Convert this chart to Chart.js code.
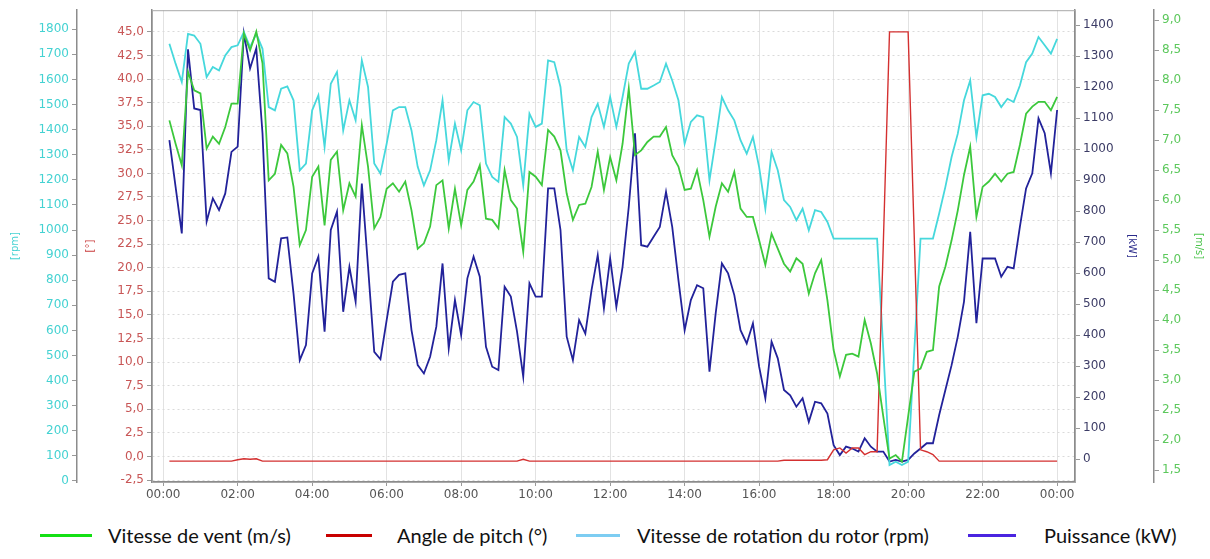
<!DOCTYPE html>
<html lang="fr">
<head>
<meta charset="utf-8">
<title>Éolienne - journée</title>
<script src="https://cdn.jsdelivr.net/npm/chart.js@4.4.0/dist/chart.umd.min.js"></script>
<style>
  html, body { margin: 0; padding: 0; background: #fff; }
  #wrap { position: relative; width: 1210px; height: 559px; overflow: hidden; }
  #graphique { position: absolute; left: 0; top: 0; }
  .leg-trait { position: absolute; height: 3px; }
  .leg-texte { position: absolute; font-family: 'Lato', 'Open Sans', sans-serif; font-size: 20px; color: #111; white-space: nowrap; line-height: 22px; }
</style>
</head>
<body>
<div id="wrap">
  <canvas id="graphique" width="1210" height="500"></canvas>
  <div id="legende"></div>
</div>
<script>
// échantillons toutes les 10 min, de 00:10 à 24:00
const debutMinutes = 10;
const pasMinutes = 10;

// vitesse de vent (m/s)
const vent = [
  7.33, 6.94, 6.58, 8.14, 7.83, 7.78, 6.86, 7.06, 6.94, 7.22, 7.61, 7.61, 8.78, 8.5, 8.81, 8.28, 6.33, 6.44,
  6.92, 6.78, 6.22, 5.25, 5.5, 6.39, 6.56, 5.58, 6.67, 6.81, 5.83, 6.28, 6.06, 7.25, 6.56, 5.53, 5.72, 6.19,
  6.28, 6.14, 6.31, 5.83, 5.19, 5.28, 5.56, 6.25, 6.33, 5.53, 6.19, 5.58, 6.17, 6.31, 6.58, 5.69, 5.67, 5.53,
  6.5, 6.0, 5.86, 5.14, 6.47, 6.39, 6.25, 7.17, 7.06, 6.83, 6.11, 5.67, 5.92, 5.94, 6.22, 6.81, 6.17, 6.72, 6.33,
  6.94, 7.86, 6.75, 6.83, 6.97, 7.06, 7.06, 7.22, 6.75, 6.56, 6.17, 6.19, 6.5, 6.0, 5.39, 5.89, 6.28, 6.14,
  6.47, 5.86, 5.72, 5.72, 5.33, 4.92, 5.44, 5.19, 4.94, 4.81, 5.03, 4.94, 4.44, 4.78, 5.0, 4.33, 3.5, 3.06, 3.42,
  3.44, 3.39, 4.0, 3.61, 3.11, 2.39, 1.69, 1.75, 1.64, 2.39, 3.14, 3.19, 3.47, 3.5, 4.56, 4.89, 5.33,
  5.83, 6.42, 6.89, 5.72, 6.22, 6.31, 6.44, 6.31, 6.44, 6.47, 6.92, 7.44, 7.56, 7.64, 7.64, 7.5, 7.72
];

// angle de pitch (°)
const pitch = [
  -0.5, -0.5, -0.5, -0.5, -0.5, -0.5, -0.5, -0.5, -0.5, -0.5, -0.5, -0.35, -0.25, -0.3, -0.25, -0.5, -0.5, -0.5,
  -0.5, -0.5, -0.5, -0.5, -0.5, -0.5, -0.5, -0.5, -0.5, -0.5, -0.5, -0.5, -0.5, -0.5, -0.5, -0.5, -0.5, -0.5,
  -0.5, -0.5, -0.5, -0.5, -0.5, -0.5, -0.5, -0.5, -0.5, -0.5, -0.5, -0.5, -0.5, -0.5, -0.5, -0.5, -0.5, -0.5,
  -0.5, -0.5, -0.5, -0.3, -0.5, -0.5, -0.5, -0.5, -0.5, -0.5, -0.5, -0.5, -0.5, -0.5, -0.5, -0.5, -0.5, -0.5, -0.5,
  -0.5, -0.5, -0.5, -0.5, -0.5, -0.5, -0.5, -0.5, -0.5, -0.5, -0.5, -0.5, -0.5, -0.5, -0.5, -0.5, -0.5, -0.5,
  -0.5, -0.5, -0.5, -0.5, -0.5, -0.5, -0.5, -0.5, -0.4, -0.4, -0.4, -0.4, -0.4, -0.4, -0.4, -0.35, 0.7, 0.9, 0.35,
  0.9, 0.9, 0.2, 0.5, 0.5, 22.5, 45, 45, 45, 45, 23, 0.7, 0.5, 0.2, -0.5, -0.5, -0.5,
  -0.5, -0.5, -0.5, -0.5, -0.5, -0.5, -0.5, -0.5, -0.5, -0.5, -0.5, -0.5, -0.5, -0.5, -0.5, -0.5, -0.5
];

// vitesse de rotation du rotor (rpm)
const rotor = [
  1742, 1663, 1590, 1782, 1775, 1742, 1610, 1650, 1636, 1696, 1729, 1736, 1789, 1729, 1782, 1722, 1490, 1477,
  1563, 1572, 1517, 1238, 1265, 1477, 1537, 1331, 1583, 1630, 1397, 1517, 1437, 1676, 1570, 1265, 1225, 1344,
  1477, 1490, 1490, 1397, 1252, 1178, 1238, 1358, 1517, 1278, 1424, 1318, 1477, 1510, 1497, 1265, 1212, 1192,
  1450, 1424, 1371, 1178, 1464, 1411, 1424, 1676, 1669, 1570, 1318, 1238, 1371, 1331, 1450, 1503, 1411, 1530, 1411,
  1530, 1663, 1709, 1563, 1563, 1576, 1590, 1663, 1596, 1517, 1344, 1431, 1457, 1450, 1198, 1358, 1530, 1477,
  1437, 1358, 1304, 1371, 1251, 1085, 1311, 1238, 1119, 1092, 1039, 1085, 999, 1079, 1072, 1032, 966, 966, 966,
  966, 966, 966, 966, 966, 522, 64, 77, 64, 77, 522, 966, 966, 966, 1066, 1172, 1291,
  1384, 1517, 1596, 1371, 1537, 1543, 1530, 1490, 1523, 1510, 1576, 1669, 1703, 1769, 1736, 1703, 1762
];

// puissance (kW)
const puissance = [
  1029, 878, 728, 1322, 1131, 1126, 766, 841, 803, 857, 991, 1008, 1373, 1260, 1325, 1051, 583, 572,
  712, 715, 534, 319, 368, 599, 653, 411, 739, 798, 475, 620, 508, 889, 620, 346, 322, 448,
  572, 594, 599, 416, 303, 276, 330, 427, 631, 357, 513, 400, 583, 653, 588, 362, 298, 287,
  556, 524, 411, 266, 567, 524, 524, 873, 873, 739, 395, 319, 448, 405, 545, 658, 486, 647, 491,
  620, 814, 1051, 690, 685, 717, 749, 862, 749, 577, 416, 513, 561, 551, 282, 470, 631, 599,
  529, 416, 373, 438, 298, 196, 379, 325, 223, 206, 169, 196, 120, 185, 180, 147, 45, 13, 40,
  34, 24, 67, 40, 24, 24, -8, -3, -8, -3, 18, 34, 51, 51, 142, 223, 303,
  395, 508, 733, 438, 647, 647, 647, 588, 620, 615, 749, 873, 922, 1099, 1051, 922, 1126
];

// graduations des axes
const ticksHeures = [0, 2, 4, 6, 8, 10, 12, 14, 16, 18, 20, 22, 24];
const ticksRpm = [0, 100, 200, 300, 400, 500, 600, 700, 800, 900, 1000, 1100, 1200, 1300, 1400, 1500, 1600, 1700, 1800];
const ticksPitch = [-2.5, 0, 2.5, 5, 7.5, 10, 12.5, 15, 17.5, 20, 22.5, 25, 27.5, 30, 32.5, 35, 37.5, 40, 42.5, 45];
const ticksKw = [0, 100, 200, 300, 400, 500, 600, 700, 800, 900, 1000, 1100, 1200, 1300, 1400];
const ticksVent = [1.5, 2, 2.5, 3, 3.5, 4, 4.5, 5, 5.5, 6, 6.5, 7, 7.5, 8, 8.5, 9];

const temps = vent.map((_, i) => (debutMinutes + i * pasMinutes) / 60);
const points = serie => serie.map((v, i) => ({ x: temps[i], y: v }));

const virgule = v => v.toFixed(1).replace('.', ',');
const heure = v => String(v % 24).padStart(2, '0') + ':00';

const policeTicks = { family: "'DejaVu Sans', sans-serif", size: 12 };
const policeTitre = { family: "'DejaVu Sans', sans-serif", size: 10 };

// cadre gris autour de la zone de tracé
const cadre = {
  id: 'cadre',
  beforeDatasetsDraw(chart) {
    const { ctx, chartArea: a } = chart;
    ctx.save();
    ctx.strokeStyle = '#a8a8a8';
    ctx.lineWidth = 1;
    ctx.strokeRect(a.left + 0.5, a.top + 0.5, a.right - a.left, a.bottom - a.top);
    ctx.restore();
  }
};

function axeY(position, poids, largeur, min, max, graduations, format, couleur, titre, couleurTitre, decalTitre, grille) {
  return {
    type: 'linear',
    position: position,
    weight: poids,
    min: min,
    max: max,
    afterBuildTicks: s => { s.ticks = graduations.map(v => ({ value: v })); },
    afterFit: s => { s.width = largeur; },
    ticks: { callback: format, color: couleur, font: policeTicks, padding: 3 },
    grid: {
      drawOnChartArea: grille,
      color: '#dadada',
      tickColor: '#999',
      tickLength: 5,
      tickBorderDash: []
    },
    border: { display: true, color: '#8c8c8c', width: 1.5, dash: grille ? [2, 3] : [] },
    title: { display: true, text: titre, color: couleurTitre, font: policeTitre, padding: { top: decalTitre, bottom: 0 } }
  };
}

const series = [
  { label: 'Vitesse de vent (m/s)', data: points(vent), axe: 'yVent', couleur: '#3cc83c', legende: '#14e014', epais: 1.8 },
  { label: 'Angle de pitch (°)', data: points(pitch), axe: 'yPitch', couleur: '#d43030', legende: '#c80000', epais: 1.4 },
  { label: 'Vitesse de rotation du rotor (rpm)', data: points(rotor), axe: 'yRpm', couleur: '#46d8dc', legende: '#7dcdf2', epais: 1.8 },
  { label: 'Puissance (kW)', data: points(puissance), axe: 'yKw', couleur: '#22229a', legende: '#4a24e0', epais: 1.8 }
];

const chart = new Chart(document.getElementById('graphique'), {
  type: 'line',
  data: {
    datasets: series.map(s => ({
      label: s.label,
      data: s.data,
      yAxisID: s.axe,
      borderColor: s.couleur,
      backgroundColor: s.couleur,
      borderWidth: s.epais,
      pointRadius: 0,
      tension: 0,
      fill: false
    }))
  },
  options: {
    responsive: false,
    animation: false,
    devicePixelRatio: 1,
    layout: { padding: { top: 10, left: 0, right: 0, bottom: 0 } },
    plugins: { legend: { display: false }, tooltip: { enabled: false } },
    scales: {
      x: {
        type: 'linear',
        position: 'bottom',
        min: -0.3,
        max: 24.48,
        afterBuildTicks: s => { s.ticks = ticksHeures.map(v => ({ value: v })); },
        afterFit: s => { s.height = 18; },
        ticks: { callback: heure, color: '#555', font: policeTicks, padding: 2, maxRotation: 0, autoSkip: false },
        grid: { color: '#e2e2e2', tickColor: '#999', tickLength: 4 },
        border: { color: '#8c8c8c', width: 1.5 }
      },
      yRpm: axeY('left', 2, 77, -4, 1876, ticksRpm, v => v, '#44d2d2', '[rpm]', '#44d2d2', 9, false),
      yPitch: axeY('left', 1, 75, -2.71, 47.3, ticksPitch, virgule, '#c85656', '[°]', '#c83a3a', 7, true),
      yKw: axeY('right', 1, 79, -74, 1448, ticksKw, v => v, '#3c3c66', '[kW]', '#2a2a8a', 16, false),
      yVent: axeY('right', 2, 56, 1.3, 9.167, ticksVent, virgule, '#5cc85c', '[m/s]', '#4cc44c', 5, false)
    }
  },
  plugins: [cadre]
});

// légende en bas, construite depuis les séries
const placeLegende = [
  { trait: 40, largeur: 52, texte: 108 },
  { trait: 326, largeur: 46, texte: 397 },
  { trait: 576, largeur: 44, texte: 637 },
  { trait: 968, largeur: 48, texte: 1044 }
];
const legende = document.getElementById('legende');
series.forEach((s, i) => {
  const p = placeLegende[i];
  const trait = document.createElement('div');
  trait.className = 'leg-trait';
  trait.style.left = p.trait + 'px';
  trait.style.top = '534px';
  trait.style.width = p.largeur + 'px';
  trait.style.background = s.legende;
  legende.appendChild(trait);
  const txt = document.createElement('div');
  txt.className = 'leg-texte';
  txt.style.left = p.texte + 'px';
  txt.style.top = '524px';
  txt.textContent = s.label;
  legende.appendChild(txt);
});
</script>
</body>
</html>
